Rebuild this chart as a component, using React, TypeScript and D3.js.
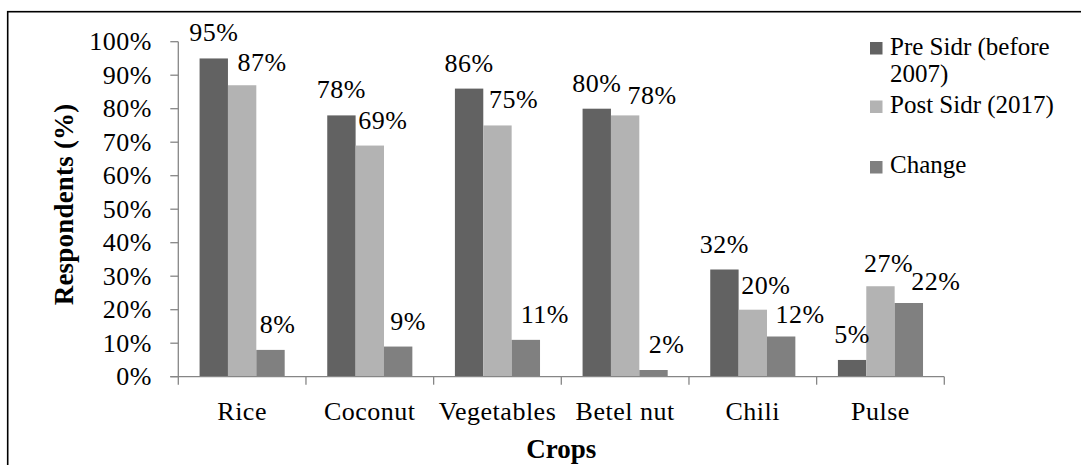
import React from "react";
import * as d3 from "d3";

const categories = ["Rice", "Coconut", "Vegetables", "Betel nut", "Chili", "Pulse"];
const seriesNames = ["Pre Sidr (before 2007)", "Post Sidr (2017)", "Change"];
const preSidr = [95, 78, 86, 80, 32, 5];
const postSidr = [87, 69, 75, 78, 20, 27];
const change = [8, 9, 11, 2, 12, 22];
const yTicks = [0, 10, 20, 30, 40, 50, 60, 70, 80, 90, 100];

// label nudges (layout only)
const labelDx = [
  [0, 0, 0, 0, 0, 0],
  [20, 13, 16, 27, 13, 8],
  [7, 10, 19, 13, 19, 27],
];
const labelDy = [
  [0, 0, 0, 0, 0, 0],
  [3, 0, 0, 6, 1, 3],
  [0, 0, 0, 0, 3, 4],
];

const colors = ["#626262", "#b3b3b3", "#808080"];
const axisColor = "#868686";
const FONT = "'Liberation Serif', 'Times New Roman', serif";

export default function App() {
  const W = 1081, H = 465;
  const left = 178.3, right = 944.3, top = 41.7, bottom = 376.7;
  const series = [preSidr, postSidr, change];

  const x = d3.scaleBand<string>().domain(categories).range([left, right]).paddingInner(0).paddingOuter(0);
  const inner = d3.scaleBand<number>().domain([0, 1, 2]).range([0, x.bandwidth()]).paddingInner(0).paddingOuter(0.75);
  const y = d3.scaleLinear().domain([0, 100]).range([bottom, top]);

  const boundaries = d3.range(categories.length + 1).map((i) => left + i * x.step());

  return (
    <svg width={W} height={H} style={{ position: "absolute", left: 0, top: 0, background: "#fff" }} fontFamily={FONT}>
      <rect x={0} y={0} width={W} height={H} fill="#fff" />
      <rect x={7.7} y={11.7} width={1200} height={600} fill="none" stroke="#000" strokeWidth={1.6} />

      {/* bars */}
      {series.map((vals, s) =>
        vals.map((v, i) => (
          <rect
            key={`b${s}-${i}`}
            x={(x(categories[i]) as number) + (inner(s) as number)}
            y={y(v)}
            width={inner.bandwidth()}
            height={bottom - y(v)}
            fill={colors[s]}
          />
        ))
      )}

      {/* y axis */}
      <line x1={left} x2={left} y1={top} y2={bottom} stroke={axisColor} strokeWidth={1.3} />
      {yTicks.map((t) => (
        <g key={`yt${t}`}>
          <line x1={left - 8} x2={left} y1={y(t)} y2={y(t)} stroke={axisColor} strokeWidth={1.3} />
          <text x={152} y={y(t) + 8.5} textAnchor="end" fontSize={26} letterSpacing={0.5} fill="#000">
            {t}%
          </text>
        </g>
      ))}

      {/* x axis */}
      <line x1={left - 8} x2={right} y1={bottom} y2={bottom} stroke={axisColor} strokeWidth={1.3} />
      {boundaries.map((bx, i) => (
        <line key={`xt${i}`} x1={bx} x2={bx} y1={bottom} y2={bottom + 8} stroke={axisColor} strokeWidth={1.3} />
      ))}
      {categories.map((c) => (
        <text
          key={`xl${c}`}
          x={(x(c) as number) + x.bandwidth() / 2}
          y={419.5}
          textAnchor="middle"
          fontSize={26}
          letterSpacing={0.5}
          fill="#000"
        >
          {c}
        </text>
      ))}

      {/* data labels */}
      {series.map((vals, s) =>
        vals.map((v, i) => (
          <text
            key={`l${s}-${i}`}
            x={(x(categories[i]) as number) + (inner(s) as number) + inner.bandwidth() / 2 + labelDx[s][i]}
            y={y(v) - 17 + labelDy[s][i]}
            textAnchor="middle"
            fontSize={26}
            letterSpacing={0.5}
            fill="#000"
          >
            {v}%
          </text>
        ))
      )}

      {/* axis titles */}
      <text x={561.3} y={458} textAnchor="middle" fontSize={27} fontWeight="bold" fill="#000">
        Crops
      </text>
      <text
        transform={`translate(72.5, 204.4) rotate(-90)`}
        textAnchor="middle"
        fontSize={27}
        fontWeight="bold"
        letterSpacing={0.2}
        fill="#000"
      >
        Respondents (%)
      </text>

      {/* legend */}
      <g fontSize={25} fill="#000">
        <rect x={870} y={42} width={12.5} height={12.5} fill={colors[0]} />
        <text x={890} y={55}>Pre Sidr (before</text>
        <text x={890} y={82}>2007)</text>
        <rect x={870} y={100.5} width={12.5} height={12.5} fill={colors[1]} />
        <text x={890} y={113}>{seriesNames[1]}</text>
        <rect x={870} y={161} width={12.5} height={12.5} fill={colors[2]} />
        <text x={890} y={173}>{seriesNames[2]}</text>
      </g>
    </svg>
  );
}
